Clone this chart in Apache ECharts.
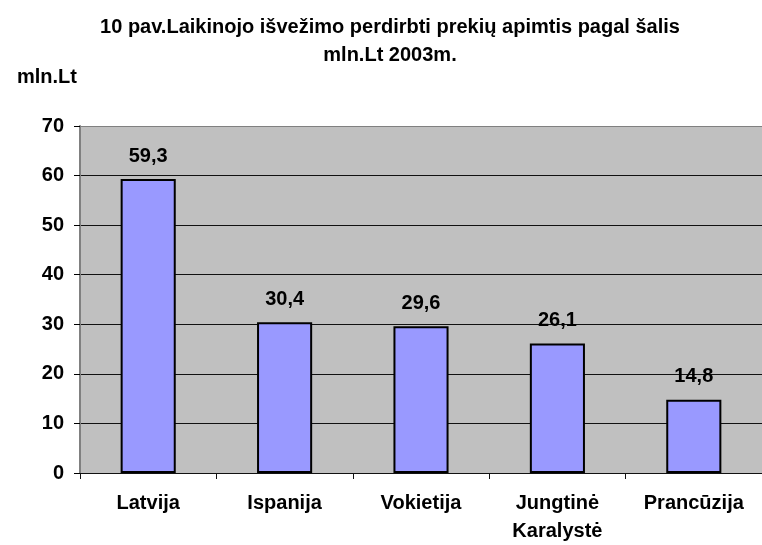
<!DOCTYPE html>
<html>
<head>
<meta charset="utf-8">
<title>Laikinojo išvežimo perdirbti prekių apimtis</title>
<script src="https://cdn.jsdelivr.net/npm/echarts@6/dist/echarts.min.js"></script>
<style>
  html, body { margin: 0; padding: 0; background: #fff; }
  #chart { width: 762px; height: 545px; }
</style>
</head>
<body>
<div id="chart"></div>
<script>
// data
var countries = ['Latvija', 'Ispanija', 'Vokietija', 'Jungtinė\nKaralystė', 'Prancūzija'];
var values = [59.3, 30.4, 29.6, 26.1, 14.8];
var yTicks = [0, 10, 20, 30, 40, 50, 60, 70];

var font = 'Liberation Sans, Arial, sans-serif';

var chart = echarts.init(document.getElementById('chart'));

// last gridline (70) is the grey plot border, the rest are black
var lineColors = yTicks.map(function (v, i) { return i === yTicks.length - 1 ? '#808080' : '#111'; });

chart.setOption({
  animation: false,
  textStyle: { fontFamily: font },
  title: [
    {
      text: '10 pav.Laikinojo išvežimo perdirbti prekių apimtis pagal šalis\nmln.Lt 2003m.',
      left: 385, top: 8, textAlign: 'center',
      textStyle: { fontSize: 20, fontWeight: 'bold', color: '#000', lineHeight: 28, fontFamily: font }
    },
    {
      text: 'mln.Lt',
      left: 12, top: 58,
      textStyle: { fontSize: 20, fontWeight: 'bold', color: '#000', lineHeight: 28, fontFamily: font }
    }
  ],
  grid: {
    left: 80, right: -11, top: 126, bottom: 68,
    show: true, backgroundColor: '#c0c0c0', borderWidth: 0
  },
  xAxis: {
    type: 'category',
    data: countries,
    axisLine: { lineStyle: { color: '#111', width: 1 } },
    axisTick: { show: true, length: 6, lineStyle: { color: '#111' } },
    axisLabel: {
      color: '#000', fontSize: 20, fontWeight: 'bold', margin: 16, lineHeight: 28,
      fontFamily: font
    }
  },
  yAxis: {
    type: 'value',
    min: 0, max: 70, interval: 10,
    axisLine: { show: true, lineStyle: { color: '#808080', width: 2 } },
    axisTick: { show: true, length: 6, lineStyle: { color: '#000' } },
    axisLabel: { color: '#000', fontSize: 20, fontWeight: 'bold', margin: 16, fontFamily: font },
    splitLine: { show: true, lineStyle: { color: lineColors, width: 1 } }
  },
  series: [{
    type: 'bar',
    data: values,
    barWidth: '40.4%',
    itemStyle: { color: '#9999ff', borderColor: '#000', borderWidth: 2 },
    label: {
      show: true, position: 'top', distance: 13,
      color: '#000', fontSize: 20, fontWeight: 'bold', fontFamily: font,
      formatter: function (p) { return String(p.value).replace('.', ','); }
    }
  }]
});
</script>
</body>
</html>
